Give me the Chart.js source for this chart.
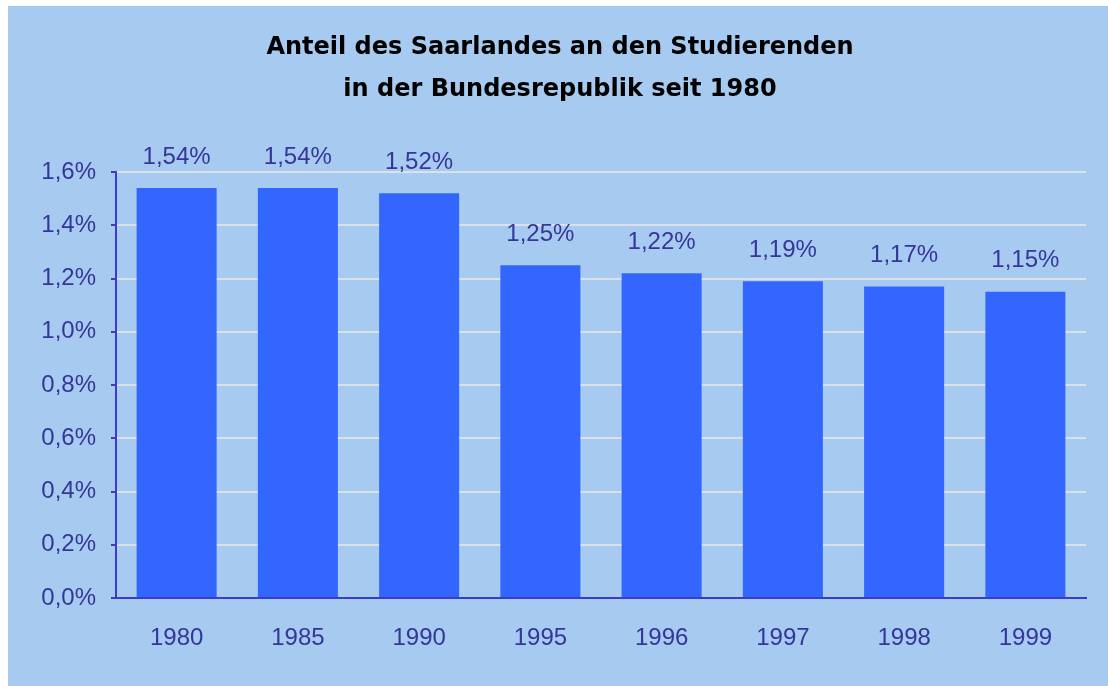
<!DOCTYPE html>
<html>
<head>
<meta charset="utf-8">
<script src="https://cdn.jsdelivr.net/npm/chart.js@4/dist/chart.umd.min.js"></script>
<style>
  html, body { margin: 0; padding: 0; background: #fff; }
  #wrap { position: absolute; left: 8px; top: 6px; width: 1100px; height: 680px; background: #A6CAF0; }
</style>
</head>
<body>
<div id="wrap"><canvas id="chart" width="1100" height="680"></canvas></div>
<script>
const years = ['1980', '1985', '1990', '1995', '1996', '1997', '1998', '1999'];
const shares = [1.54, 1.54, 1.52, 1.25, 1.22, 1.19, 1.17, 1.15];
const titleLines = ['Anteil des Saarlandes an den Studierenden', 'in der Bundesrepublik seit 1980'];

const navy = '#36369A';
const axisBlue = '#3C3CC8';

function fmt(v, digits) {
    return v.toFixed(digits).replace('.', ',') + '%';
}

const valueLabels = {
    id: 'valueLabels',
    afterDatasetsDraw(chart) {
        const ctx = chart.ctx;
        const meta = chart.getDatasetMeta(0);
        ctx.save();
        ctx.font = '24px "Liberation Sans", Arial, sans-serif';
        ctx.fillStyle = navy;
        ctx.textAlign = 'center';
        ctx.textBaseline = 'middle';
        meta.data.forEach((bar, i) => {
            ctx.fillText(fmt(shares[i], 2), bar.x, bar.y - 31);
        });
        ctx.restore();
    }
};

const chart = new Chart(document.getElementById('chart').getContext('2d'), {
    type: 'bar',
    data: {
        labels: years,
        datasets: [{
            data: shares,
            backgroundColor: '#3366FF',
            borderWidth: 0,
            barPercentage: 0.66,
            categoryPercentage: 1
        }]
    },
    options: {
        responsive: false,
        animation: false,
        layout: { padding: { left: 26, right: 22, top: 0, bottom: 0 } },
        plugins: {
            legend: { display: false },
            tooltip: { enabled: false },
            title: {
                display: true,
                text: titleLines,
                color: '#000',
                font: { family: '"DejaVu Sans", Verdana, sans-serif', size: 24, weight: 'bold', lineHeight: 1.75 },
                padding: { top: 21, bottom: 61 }
            }
        },
        scales: {
            x: {
                grid: { display: false },
                border: { display: true, color: axisBlue, width: 2 },
                ticks: {
                    color: navy,
                    font: { family: '"Liberation Sans", Arial, sans-serif', size: 24 },
                    padding: 18
                },
                afterFit(scale) { scale.height = 88; }
            },
            y: {
                min: 0,
                max: 1.6,
                grid: {
                    color: '#DCE0E8',
                    lineWidth: 2,
                    tickColor: axisBlue,
                    tickLength: 5,
                    tickWidth: 2
                },
                border: { display: true, color: axisBlue, width: 2 },
                ticks: {
                    stepSize: 0.2,
                    color: navy,
                    font: { family: '"Liberation Sans", Arial, sans-serif', size: 24 },
                    padding: 15,
                    callback: function(value) {
                        return fmt(value, 1);
                    }
                },
                afterFit(scale) { scale.width = 82; }
            }
        }
    },
    plugins: [valueLabels]
});
</script>
</body>
</html>
